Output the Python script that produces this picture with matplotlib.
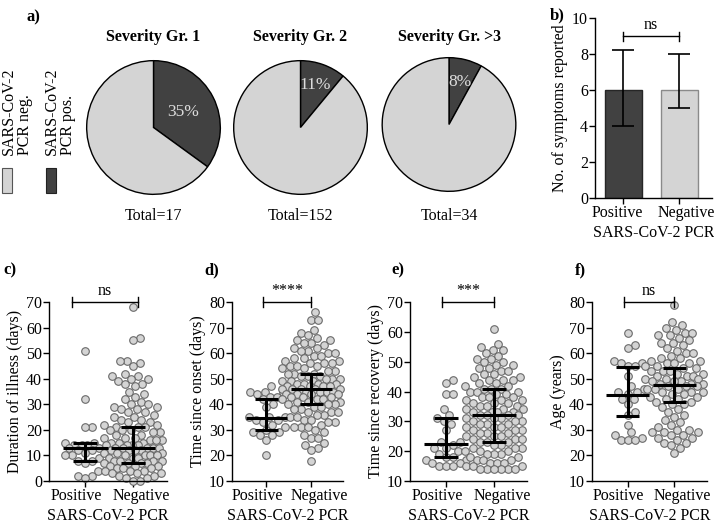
import numpy as np
import matplotlib.pyplot as plt

plt.rcParams['font.family'] = ['Liberation Serif', 'DejaVu Serif']
plt.rcParams['font.size'] = 11

W, H = 714, 525

# ---- data ----
pie_titles = ['Severity Gr. 1', 'Severity Gr. 2', 'Severity Gr. >3']
pie_pos_pct = [35, 11, 8]
pie_totals = [17, 152, 34]
pie_label_dist = [0.5, 0.67, 0.66]

groups = ['Positive', 'Negative']
symptoms_median = [6, 6]
symptoms_low = [4, 5]
symptoms_high = [8.2, 8]

illness_pos = [51, 32, 21, 21, 15, 15, 14, 14, 14, 13, 13, 13, 12, 12, 11, 10, 10,
               9, 8, 8, 7, 4, 2, 2, 1]
illness_neg = [68, 56, 55, 47, 47, 46, 45, 42, 41, 41, 40, 40, 39, 38, 38, 37, 35, 34,
               33, 32, 31, 30, 30, 29, 29, 28, 28, 27, 27, 26, 25, 25, 24, 24, 23, 23,
               22, 22, 21, 21, 21, 20, 20, 20, 19, 19, 18, 18, 17, 17, 17, 16, 16, 16,
               15, 15, 15, 14, 14, 14, 14, 13, 13, 13, 13, 13, 12, 12, 12,
               12, 11, 11, 11, 10, 10, 10, 10, 9, 9, 9, 8, 8, 8, 8,
               7, 7, 7, 7, 6, 6, 6, 5, 5, 5, 4, 4, 4, 3, 3, 3, 2, 2,
               1, 1, 0, 0]
illness_q = [[8, 13, 15], [7, 13, 21]]

onset_pos = [47, 45, 45, 45, 44, 43, 43, 42, 40, 39, 35, 35, 35, 34, 34, 33, 32, 31,
             30, 29, 29, 28, 28, 26, 20]
onset_neg = [76, 73, 73, 69, 68, 67, 66, 65, 65, 64, 64, 63, 62, 62, 61, 61, 60, 60,
             59, 59, 58, 58, 57, 57, 56, 56, 56, 55, 55, 55, 54, 54, 53, 53, 52, 52,
             52, 51, 51, 51, 50, 50, 50, 49, 49, 49, 48, 48, 48, 48, 47, 47, 47, 47,
             46, 46, 46, 46, 46, 45, 45, 45, 45, 44, 44, 44, 44, 43, 43, 43, 42, 42,
             42, 41, 41, 41, 40, 40, 40, 39, 39, 38, 38, 37, 37, 37, 36, 36, 35, 35,
             34, 34, 33, 33, 32, 31, 31, 31, 30, 29, 28, 27, 27, 25, 24, 23, 22, 18]
onset_q = [[30, 34.5, 42], [40, 46, 52]]

recovery_pos = [44, 43, 39, 39, 34, 32, 31, 30, 29, 27, 23, 23, 22, 21, 21, 20, 19,
                18, 18, 17, 17, 16, 16, 15, 15, 15]
recovery_neg = [61, 56, 55, 54, 54, 53, 52, 51, 51, 50, 50, 49, 49, 48, 48, 47, 47,
                46, 46, 45, 45, 44, 44, 44, 43, 43, 42, 42, 41, 41, 41, 40, 40, 40,
                39, 39, 38, 38, 38, 37, 37, 37, 36, 36, 36, 35, 35, 35, 34, 34, 34,
                33, 33, 33, 33, 32, 32, 32, 32, 31, 31, 31, 30, 30, 30, 29, 29, 29,
                28, 28, 28, 27, 27, 27, 26, 26, 26, 25, 25, 25, 24, 24, 24, 23, 23,
                23, 22, 22, 21, 21, 21, 20, 20, 20, 19, 19, 19, 18, 18, 17, 17, 17,
                16, 16, 16, 15, 15, 15, 14, 14, 14, 14, 14, 14]
recovery_q = [[18, 22.5, 31], [23, 32, 41]]

age_pos = [68, 63, 62, 57, 56, 56, 55, 55, 51, 47, 46, 45, 45, 44, 42, 42, 40, 37,
           36, 32, 29, 28, 27, 26, 26, 26]
age_neg = [79, 72, 71, 70, 69, 68, 68, 67, 67, 66, 65, 64, 64, 63, 62, 61, 60, 60,
           59, 58, 58, 57, 57, 56, 56, 56, 55, 55, 54, 54, 53, 53, 53, 52, 52, 51,
           51, 51, 50, 50, 50, 49, 49, 49, 48, 48, 48, 47, 47, 47, 46, 46, 46, 45,
           45, 45, 44, 44, 43, 43, 42, 42, 41, 41, 40, 40, 39, 38, 37, 36, 35, 34,
           33, 32, 31, 30, 30, 29, 29, 29, 28, 28, 27, 27, 26, 25, 25, 24, 23, 21]
age_q = [[35.5, 43.5, 54.5], [41, 47.5, 54]]

DARK = '#414141'
LIGHT = '#d4d4d4'


def box(l, t, r, b):
    return [l / W, (H - b) / H, (r - l) / W, (b - t) / H]


fig = plt.figure(figsize=(W / 100, H / 100), dpi=100)

# ---- pies ----
pie_boxes = [(86, 60, 221, 195), (233, 60, 368, 195), (381, 57, 517, 192)]
for i, bx in enumerate(pie_boxes):
    ax = fig.add_axes(box(*bx))
    p = pie_pos_pct[i]
    wedges, _, autotexts = ax.pie(
        [p, 100 - p], colors=[DARK, LIGHT], startangle=90, counterclock=False,
        wedgeprops=dict(edgecolor='black', linewidth=1.0),
        autopct=lambda v: f'{v:.0f}%' if v < 50 else '',
        pctdistance=pie_label_dist[i], radius=1)
    for t in autotexts:
        t.set_color('#dcdcdc')
        t.set_fontsize(12.5)
    ax.set_xlim(-1.01, 1.01)
    ax.set_ylim(-1.01, 1.01)
    cx = (bx[0] + bx[2]) / 2
    fig.text(cx / W, 1 - 37 / H, pie_titles[i], ha='center', va='center',
             fontweight='bold', fontsize=11.5)
    fig.text(cx / W, 1 - 216 / H, f'Total={pie_totals[i]}', ha='center',
             va='center', fontsize=11.5)

# legend for pies
fig.patches.append(plt.Rectangle((2 / W, 1 - 193 / H), 10 / W, 25 / H,
                                 transform=fig.transFigure, facecolor=LIGHT,
                                 edgecolor='#555555', lw=0.8))
fig.patches.append(plt.Rectangle((46 / W, 1 - 193 / H), 10 / W, 25 / H,
                                 transform=fig.transFigure, facecolor=DARK,
                                 edgecolor='#222222', lw=0.8))
fig.text(1 / W, 1 - 155 / H, 'SARS-CoV-2\nPCR neg.', rotation=90, ha='left',
         va='bottom', fontsize=11.5, linespacing=1.0)
fig.text(44 / W, 1 - 155 / H, 'SARS-CoV-2\nPCR pos.', rotation=90, ha='left',
         va='bottom', fontsize=11.5, linespacing=1.0)


def style(ax, label_shift):
    for s in ['top', 'right']:
        ax.spines[s].set_visible(False)
    for s in ['left', 'bottom']:
        ax.spines[s].set_linewidth(1.0)
    ax.tick_params(direction='out', length=4, width=1.0, labelsize=11.5, pad=1)
    ax.set_xticks([0, 1])
    ax.set_xticklabels([])
    # group labels sit a little outward from their ticks
    for xi, name in enumerate(groups):
        ax.annotate(name, xy=(xi, 0), xycoords=ax.get_xaxis_transform(),
                    xytext=(label_shift[xi], -11), textcoords='offset points',
                    ha='center', va='center', fontsize=11.5, annotation_clip=False)
    ax.annotate('SARS-CoV-2 PCR', xy=(0.5, 0), xycoords='axes fraction',
                xytext=(0, -25), textcoords='offset points', ha='center',
                va='center', fontsize=11.5, annotation_clip=False)


def bracket(ax, x0, x1, y, half, label, label_dy):
    kw = dict(color='black', lw=1.0, clip_on=False)
    ax.plot([x0, x1], [y, y], **kw)
    ax.plot([x0, x0], [y - half, y + half], **kw)
    ax.plot([x1, x1], [y - half, y + half], **kw)
    ax.text((x0 + x1) / 2, y + label_dy, label, ha='center', va='bottom',
            fontsize=11.5)


# ---- bar panel b ----
axb = fig.add_axes(box(595, 18, 712, 198))
xb = np.arange(len(groups))
yerr = [np.array(symptoms_median) - np.array(symptoms_low),
        np.array(symptoms_high) - np.array(symptoms_median)]
axb.bar(xb, symptoms_median, width=0.66, color=[DARK, LIGHT],
        edgecolor=['#262626', '#8a8a8a'], linewidth=1.0)
axb.errorbar(xb, symptoms_median, yerr=yerr, fmt='none', ecolor='black',
             elinewidth=1.2, capsize=8, capthick=1.2)
axb.set_xlim(-0.5, 1.58)
axb.set_ylim(0, 10)
axb.set_yticks([0, 2, 4, 6, 8, 10])
axb.set_ylabel('No. of symptoms reported', fontsize=11.5, labelpad=3)
style(axb, (-4.5, 5))
bracket(axb, 0, 1, 9.0, 0.25, 'ns', 0.15)


# ---- scatter panels ----
def swarm(values, x0, ppx, ppy, maxw, dx=7.0, dy=8.5):
    # points closer than dy vertically are pushed sideways, up to maxw pixels;
    # past that the spot with the least overlap is taken
    vals = np.asarray(values, float)
    order = np.argsort(vals)
    cands = [0.0]
    k = 1
    while k * 0.5 <= maxw:
        cands += [k * 0.5, -k * 0.5]
        k += 1
    placed = []
    xs = np.zeros(len(vals))
    for i in order:
        y = vals[i] * ppy
        best, best_d = 0.0, -1
        for c in cands:
            d = min((((c - px) / dx) ** 2 + ((y - py) / dy) ** 2
                     for px, py in placed), default=9.0)
            if d >= 1:
                best = c
                break
            if d > best_d:
                best, best_d = c, d
        placed.append((best, y))
        xs[i] = x0 + best / ppx
    return xs


panels = [
    (box(49, 302, 167, 481), illness_pos, illness_neg, illness_q, (0, 70),
     'Duration of illness (days)', 'ns', (-0.28, 1.1)),
    (box(232, 302, 343, 481), onset_pos, onset_neg, onset_q, (10, 80),
     'Time since onset (days)', '****', (-0.08, 1.0)),
    (box(410, 302, 527, 481), recovery_pos, recovery_neg, recovery_q, (10, 70),
     'Time since recovery (days)', '***', (-0.08, 1.0)),
    (box(592, 302, 707, 481), age_pos, age_neg, age_q, (10, 80),
     'Age (years)', 'ns', (-0.08, 1.0)),
]
swarm_width = [20, 29]
for rect, pos, neg, q, ylim, ylabel, sig, br in panels:
    ax = fig.add_axes(rect)
    ax.set_xlim(-0.76, 1.7)
    ax.set_ylim(*ylim)
    wpx = rect[2] * W
    hpx = rect[3] * H
    ppx = wpx / 2.46
    ppy = hpx / (ylim[1] - ylim[0])
    for xi, vals in enumerate([pos, neg]):
        xs = swarm(vals, xi, ppx, ppy, swarm_width[xi])
        ax.scatter(xs, vals, s=30, facecolor=LIGHT, edgecolor='#6a6a6a',
                   linewidth=0.8, zorder=2, clip_on=False)
        q1, med, q3 = q[xi]
        ax.hlines(med, xi - 0.46, xi + 0.46, color='black', lw=2.2, zorder=3)
        ax.vlines(xi, q1, q3, color='black', lw=2.2, zorder=3)
        ax.hlines([q1, q3], xi - 0.25, xi + 0.25, color='black', lw=2.2, zorder=3)
    ax.set_yticks(np.arange(ylim[0], ylim[1] + 1, 10))
    ax.set_ylabel(ylabel, fontsize=11.5, labelpad=2)
    style(ax, (-6.5, 6))
    half = 5 / ppy
    bracket(ax, br[0], br[1], ylim[1], half, sig, 3 / ppy)

# panel letters
for lab, x, y in [('a)', 33, 17), ('b)', 557, 15), ('c)', 10, 270),
                  ('d)', 212, 270), ('e)', 398, 270), ('f)', 580, 270)]:
    fig.text(x / W, 1 - y / H, lab, ha='center', va='center', fontweight='bold',
             fontsize=12)

fig.savefig('out.png', dpi=100)
